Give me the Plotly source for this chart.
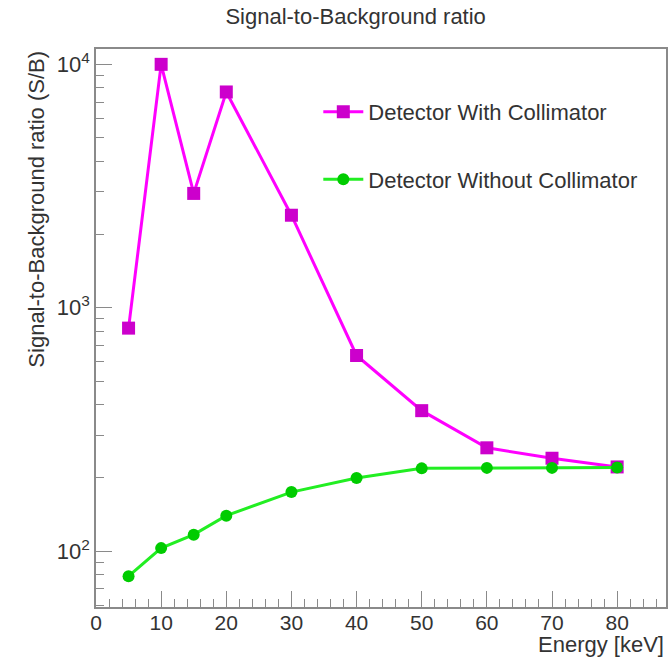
import plotly.graph_objects as go

# Energy points [keV]
energy = [5, 10, 15, 20, 30, 40, 50, 60, 70, 80]
# Signal-to-background ratio, with and without the collimator
sb_with = [825, 10000, 2950, 7700, 2400, 637, 378, 266, 241, 222]
sb_without = [79, 103, 117, 140, 175, 200, 219, 220, 220, 221]

y_major = [100, 1000, 10000]
y_major_text = ["10<sup>2</sup>", "10<sup>3</sup>", "10<sup>4</sup>"]
y_minor = [m * 10 ** e for e in (1, 2, 3, 4) for m in range(2, 10)]
y_minor = [v for v in y_minor if 59 < v < 11600]

FONT = "Liberation Sans, Arial, sans-serif"
AX = "#8a8a8a"
TXT = "#333333"
FS = 22

fig = go.Figure()
fig.add_trace(go.Scatter(
    x=energy, y=sb_with, mode="lines+markers", name="Detector With Collimator",
    legendgroup="with",
    line=dict(color="#ff00ff", width=3),
    marker=dict(symbol="square", size=13, color="#cc00cc"),
))
fig.add_trace(go.Scatter(
    x=energy, y=sb_without, mode="lines+markers", name="Detector Without Collimator",
    legendgroup="without",
    line=dict(color="#22ee22", width=3),
    marker=dict(symbol="circle", size=12, color="#00cc00"),
))

fig.update_layout(
    width=671, height=658,
    margin=dict(l=96, r=3, t=49, b=51),
    paper_bgcolor="white", plot_bgcolor="white",
    font=dict(family=FONT, size=FS, color=TXT),
    showlegend=True,
    legend=dict(
        x=0.39, y=0.925, xanchor="left", yanchor="top",
        bgcolor="rgba(0,0,0,0)", borderwidth=0,
        font=dict(size=FS, color=TXT),
        tracegroupgap=36, traceorder="grouped",
        itemwidth=40,
    ),
    xaxis=dict(
        range=[0, 87.5], showgrid=False, zeroline=False,
        showline=True, mirror=True, linecolor=AX, linewidth=1.5,
        ticks="inside", ticklen=16, tickcolor=AX, tickwidth=1.2,
        tickmode="array", tickvals=list(range(0, 90, 10)),
        tickfont=dict(size=21, color=TXT), ticklabelstandoff=-4,
        minor=dict(ticks="inside", ticklen=8, tickcolor=AX, tickwidth=1.2,
                   tickmode="array", tickvals=[v for v in range(2, 88, 2) if v % 10]),
    ),
    yaxis=dict(
        type="log", range=[1.771, 4.063], showgrid=False, zeroline=False,
        showline=True, mirror=True, linecolor=AX, linewidth=1.5,
        ticks="inside", ticklen=16, tickcolor=AX, tickwidth=1.2,
        tickmode="array", tickvals=y_major, ticktext=y_major_text,
        tickfont=dict(size=FS, color=TXT),
        minor=dict(ticks="inside", ticklen=8, tickcolor=AX, tickwidth=1.2,
                   tickmode="array", tickvals=y_minor),
    ),
    title=dict(text="Signal-to-Background ratio", x=0.53, xanchor="center",
               y=0.975, yanchor="middle", font=dict(size=FS, color=TXT)),
)

# Axis titles aligned to the end of each axis
fig.add_annotation(text="Energy [keV]", xref="paper", yref="paper",
                   x=1.0, y=-0.067, xanchor="right", yanchor="middle",
                   showarrow=False, font=dict(size=FS, color=TXT))
fig.add_annotation(text="Signal-to-Background ratio (S/B)", xref="paper", yref="paper",
                   x=-0.105, y=1.0, xanchor="center", yanchor="top", textangle=-90,
                   showarrow=False, font=dict(size=FS, color=TXT))

fig.write_html("out.html")
